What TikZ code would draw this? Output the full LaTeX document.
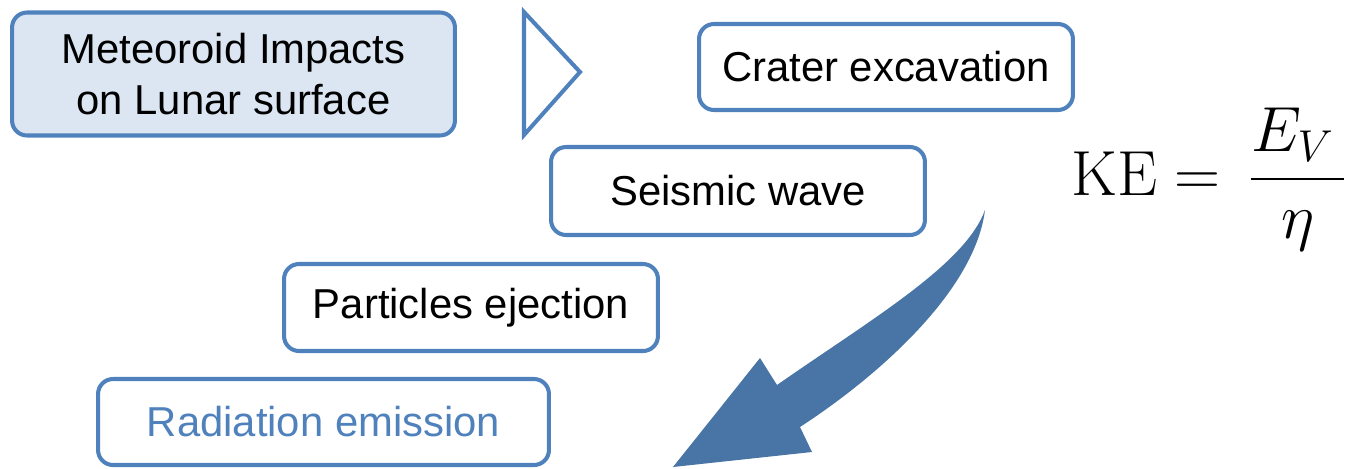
\RequirePackage{fix-cm}
\documentclass[tikz,border=0pt]{standalone}
\usepackage{fontspec}
\usepackage{amsmath}
\usepackage{tikz}
\newfontfamily\boxfont{Liberation Sans}
\definecolor{boxblue}{RGB}{79,129,189}
\definecolor{boxfill}{RGB}{220,230,242}
\definecolor{arrowblue}{RGB}{72,117,165}

\begin{document}
\begin{tikzpicture}[procbox/.style={rectangle, rounded corners=0.3cm, draw=boxblue, fill=white, line width=2.3pt, align=center, font=\boxfont\fontsize{23.8}{29}\selectfont, minimum width=7.48cm, minimum height=1.74cm}, x=0.02cm, y=-0.02cm]
\useasboundingbox (0,0) rectangle (1347,468);
\node[procbox, fill=boxfill, minimum width=8.86cm, minimum height=2.46cm] (impact) at (233.5, 74) {Meteoroid Impacts\\on Lunar surface};
\node[procbox, minimum height=1.72cm] (crater) at (886, 67) {Crater excavation};
\node[procbox, minimum height=1.76cm] (seismic) at (738, 191) {Seismic wave};
\node[procbox] (particles) at (471, 307.5) {Particles ejection};
\node[procbox, text=boxblue, minimum width=9.02cm, minimum height=1.72cm] (radiation) at (323.5, 422) {Radiation emission};
% triangle next to the first box
\draw[boxblue, line width=2.3pt, line join=miter] (524,12) -- (580,72) -- (524,135) -- cycle;
% curved block arrow
\fill[arrowblue] (985,210) .. controls (965,265) and (870,320) .. (777,385) -- (760,358) -- (673,467) -- (812,452) -- (800,427) .. controls (880,375) and (975,290) .. (985,210) -- cycle;
\node[anchor=base west, inner sep=0pt, font=\fontsize{36.3}{44}\selectfont] (ke) at (1071, 195) {$\displaystyle \mathrm{KE} = \,\frac{E_V\,}{\eta}$};
\end{tikzpicture}
\end{document}
